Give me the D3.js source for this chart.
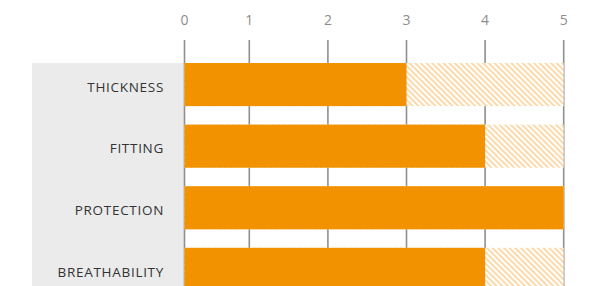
<!DOCTYPE html>
<meta charset="utf-8">
<title>Ratings</title>
<style>
body { margin: 0; background: #fff; }
.tick-label { font: 14px "Open Sans", sans-serif; fill: #8c8c8c; }
.cat-label { font: 13.5px "Open Sans", sans-serif; fill: #333; letter-spacing: 0.7px; }
.grid line { stroke: #8f8f8f; stroke-width: 1.6px; }
</style>
<svg class="chart" width="599" height="286">
  <defs>
    <pattern id="hatch" patternUnits="userSpaceOnUse" width="4" height="4" patternTransform="rotate(-45)">
      <rect x="0" y="0" width="4" height="4" fill="#fff"/>
      <rect x="0" y="0" width="1.9" height="4" fill="#fcd8a6"/>
    </pattern>
  </defs>
</svg>
<script src="https://cdn.jsdelivr.net/npm/d3@7"></script>
<script>

var categories = ["THICKNESS", "FITTING", "PROTECTION", "BREATHABILITY"];
var scores = [3, 4, 5, 4];
var maxScore = 5;
var tickValues = [0, 1, 2, 3, 4, 5];

var width = 599, height = 286;
var panelLeft = 32;
var rowStep = 61.6, gap = 0.3;

// the label panel covers the first stretch of the axis, so 0 sits at its edge
var x = d3.scaleLinear()
    .domain([0, 1, maxScore])
    .range([184.5, 249.3, 563.7]);

var y = d3.scaleBand()
    .domain(categories)
    .range([63, 63 + rowStep * (categories.length - gap)])
    .paddingInner(gap)
    .paddingOuter(0);

var data = categories.map(function(c, i) { return {name: c, value: scores[i]}; });

var chart = d3.select(".chart");

// grey panel behind the category labels
chart.append("rect")
    .attr("x", panelLeft)
    .attr("y", y.range()[0])
    .attr("width", x(0) - panelLeft)
    .attr("height", height - y.range()[0])
    .attr("fill", "#ebebeb");

// vertical grid lines
chart.append("g")
    .attr("class", "grid")
    .selectAll("line")
    .data(tickValues)
    .enter().append("line")
    .attr("x1", function(d) { return x(d); })
    .attr("x2", function(d) { return x(d); })
    .attr("y1", 40)
    .attr("y2", height);

chart.append("g")
    .selectAll("text")
    .data(tickValues)
    .enter().append("text")
    .attr("class", "tick-label")
    .attr("x", function(d) { return x(d); })
    .attr("y", 25)
    .attr("text-anchor", "middle")
    .text(function(d) { return d; });

// hatched remainder up to the max score
chart.append("g")
    .selectAll("rect")
    .data(data)
    .enter().append("rect")
    .attr("x", x(0))
    .attr("y", function(d) { return y(d.name); })
    .attr("width", x(maxScore) - x(0))
    .attr("height", y.bandwidth())
    .attr("fill", "url(#hatch)");

chart.append("g")
    .selectAll("rect")
    .data(data)
    .enter().append("rect")
    .attr("x", x(0))
    .attr("y", function(d) { return y(d.name); })
    .attr("width", function(d) { return x(d.value) - x(0); })
    .attr("height", y.bandwidth())
    .attr("fill", "#f29200");

chart.append("g")
    .selectAll("text")
    .data(data)
    .enter().append("text")
    .attr("class", "cat-label")
    .attr("x", 164)
    .attr("y", function(d) { return y(d.name) + y.bandwidth() / 2 + 2.5; })
    .attr("dy", "0.35em")
    .attr("text-anchor", "end")
    .text(function(d) { return d.name; });

</script>
